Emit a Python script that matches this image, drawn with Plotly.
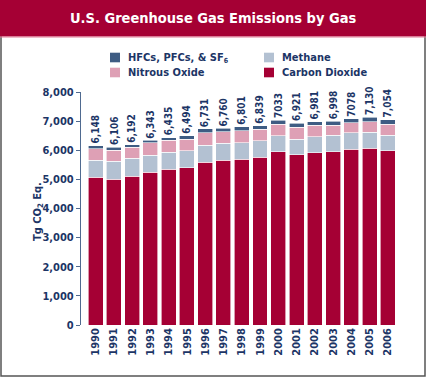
import plotly.graph_objects as go

years = [str(y) for y in range(1990, 2007)]
co2 = [5067, 5010, 5111, 5249, 5340, 5397, 5581, 5650, 5690, 5763, 5946, 5843, 5912, 5946, 6027, 6072, 5980]
methane = [593, 605, 607, 583, 595, 583, 594, 583, 572, 560, 548, 538, 549, 562, 570, 540, 540]
nitrous = [388, 390, 390, 420, 400, 400, 420, 410, 415, 390, 400, 410, 390, 355, 340, 370, 380]
hfcs = [100, 101, 84, 91, 100, 114, 136, 117, 124, 126, 139, 130, 130, 135, 141, 148, 154]
totals = [6148, 6106, 6192, 6343, 6435, 6494, 6731, 6760, 6801, 6839, 7033, 6921, 6981, 6998, 7078, 7130, 7054]
total_labels = ["6,148", "6,106", "6,192", "6,343", "6,435", "6,494", "6,731", "6,760", "6,801",
                "6,839", "7033", "6,921", "6,981", "6,998", "7078", "7,130", "7,054"]
y_ticks = [0, 1000, 2000, 3000, 4000, 5000, 6000, 7000, 8000]
y_tick_labels = ["0", "1,000", "2,000", "3,000", "4,000", "5,000", "6,000", "7,000", "8,000"]

series_names = ["Carbon Dioxide", "Methane", "Nitrous Oxide",
                "HFCs, PFCs, &amp; SF<sub><span style='font-size:7px'>6</span></sub>"]

CRIMSON = "#A50034"
METH = "#B3C1D2"
N2O = "#DEA0B5"
HFC = "#3E5C83"
NAVY = "#1C3566"
AXIS = "#4F6A90"
FONT = "DejaVu Sans Condensed, Liberation Sans Narrow, DejaVu Sans, sans-serif"


def fnt(size, color=NAVY):
    return dict(family=FONT, size=size, color=color, weight="bold")


W, H = 426, 378
L, R, T, B = 81, 29, 92, 53
PW = W - L - R
PH = H - T - B


def px_x(px):
    return (px - L) / PW


def px_y(py):
    return (H - B - py) / PH


fig = go.Figure()
for name, vals, col in [(series_names[0], co2, CRIMSON), (series_names[1], methane, METH),
                        (series_names[2], nitrous, N2O), (series_names[3], hfcs, HFC)]:
    fig.add_trace(go.Bar(x=years, y=vals, name=name, marker=dict(color=col, line=dict(color="white", width=0.6)),
                         showlegend=False, hoverinfo="x+y+name"))

annotations = []
for i, (tot, lab) in enumerate(zip(totals, total_labels)):
    annotations.append(dict(x=i, y=tot, xref="x", yref="y", text=lab, showarrow=False, textangle=-90,
                            xanchor="center", yanchor="bottom", font=fnt(10)))

annotations.append(dict(x=px_x(213), y=px_y(18.5), xref="paper", yref="paper", text="U.S. Greenhouse Gas Emissions by Gas",
                        showarrow=False, xanchor="center", yanchor="middle", font=fnt(14.5, "white")))
annotations.append(dict(x=px_x(38), y=px_y(212), xref="paper", yref="paper", text="Tg CO<sub>2</sub> Eq.",
                        showarrow=False, textangle=-90, xanchor="center", yanchor="middle", font=fnt(11)))

shapes = []
shapes.append(dict(type="rect", xref="paper", yref="paper", x0=px_x(1), x1=px_x(425), y0=px_y(376), y1=px_y(0),
                   line=dict(color="#555555", width=1.5), fillcolor="rgba(0,0,0,0)", layer="below"))
shapes.append(dict(type="rect", xref="paper", yref="paper", x0=px_x(0), x1=px_x(426), y0=px_y(36.5), y1=px_y(0),
                   line=dict(width=0), fillcolor=CRIMSON, layer="below"))
shapes.append(dict(type="line", xref="paper", yref="paper", x0=px_x(0), x1=px_x(426), y0=px_y(37), y1=px_y(37),
                   line=dict(color="#E07A95", width=1), layer="below"))

legend_items = [
    (series_names[3], HFC, 110, 57.5),
    (series_names[1], METH, 264, 57.5),
    (series_names[2], N2O, 110, 72.5),
    (series_names[0], CRIMSON, 264, 72.5),
]
for name, col, lx, ly in legend_items:
    shapes.append(dict(type="rect", xref="paper", yref="paper", x0=px_x(lx), x1=px_x(lx + 10),
                       y0=px_y(ly + 4.8), y1=px_y(ly - 4.8), line=dict(width=0), fillcolor=col))
    annotations.append(dict(x=px_x(lx + 16), y=px_y(ly + 0.5), xref="paper", yref="paper", text=name, showarrow=False,
                            xanchor="left", yanchor="middle", font=fnt(11)))

fig.update_layout(
    barmode="stack",
    bargap=0.18,
    width=W, height=H,
    margin=dict(l=L, r=R, t=T, b=B, pad=0),
    paper_bgcolor="white",
    plot_bgcolor="white",
    showlegend=False,
    annotations=annotations,
    shapes=shapes,
    xaxis=dict(type="category", range=[-0.8, 16.5], tickangle=-90, showline=False, showgrid=False,
               ticks="", tickfont=fnt(11), fixedrange=True),
    yaxis=dict(range=[0, 8000], tickvals=y_ticks, ticktext=y_tick_labels, showgrid=False, zeroline=False,
               showline=True, linecolor=AXIS, linewidth=1.2, ticks="outside", ticklen=4, tickcolor=AXIS,
               tickfont=fnt(11), fixedrange=True),
)

fig.write_html("out.html", config={"displayModeBar": False},
               post_script="document.body.style.margin='0px';document.body.style.overflow='hidden';")
